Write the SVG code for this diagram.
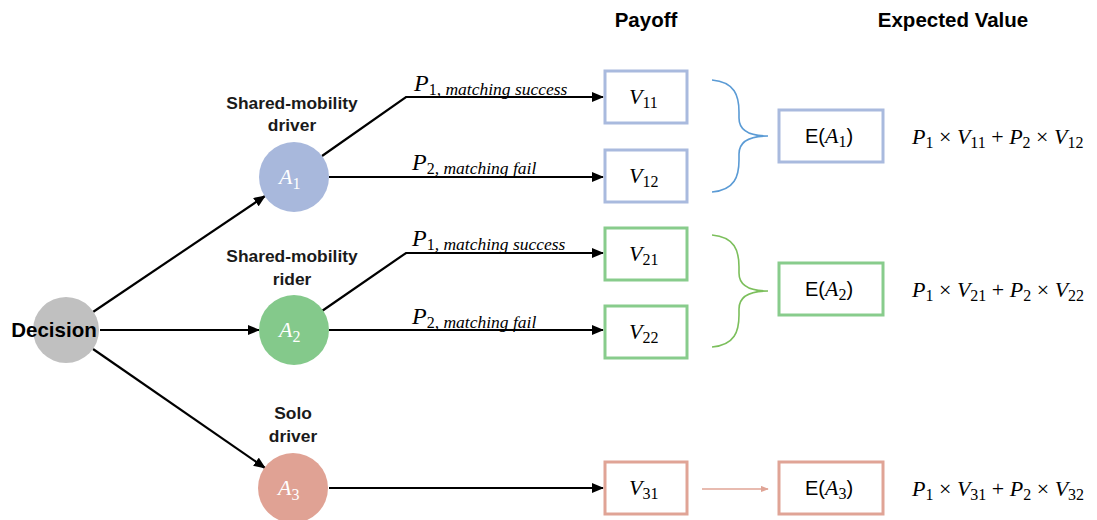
<svg xmlns="http://www.w3.org/2000/svg" width="1097" height="520" viewBox="0 0 1097 520">
  <style>
    .hdr { font-family: "Liberation Sans", Arial, sans-serif; font-weight: bold; font-size: 20.5px; fill: #000; text-anchor: middle; }
    .lbl { font-family: "Liberation Sans", Arial, sans-serif; font-weight: bold; font-size: 17.4px; fill: #1a1a1a; text-anchor: middle; }
    .dec { font-family: "Liberation Sans", Arial, sans-serif; font-weight: bold; font-size: 20.5px; fill: #000; text-anchor: middle; }
    .math { font-family: "Liberation Serif", "DejaVu Serif", serif; font-size: 22px; fill: #000; }
    .big { font-size: 24px; }
    .it { font-style: italic; }
    .sub { font-size: 16px; font-style: normal; }
    .subit { font-size: 17.5px; font-style: italic; }
    .white { fill: #fff; }
    .sans { font-family: "Liberation Sans", Arial, sans-serif; font-size: 20px; }
    .edge { fill: none; stroke: #000; stroke-width: 2.2; }
    .box-b { fill: #fff; stroke: #a9bade; stroke-width: 3; }
    .box-g { fill: #fff; stroke: #88cc8c; stroke-width: 3; }
    .box-r { fill: #fff; stroke: #e0a496; stroke-width: 3; }
  </style>
  <defs>
    <marker id="arr" viewBox="0 0 12 10" refX="11" refY="5" markerWidth="12" markerHeight="10" markerUnits="userSpaceOnUse" orient="auto">
      <path d="M0,0 L12,5 L0,10 z" fill="#000"/>
    </marker>
    <marker id="arrPink" viewBox="0 0 10 8" refX="9" refY="4" markerWidth="8" markerHeight="7" markerUnits="userSpaceOnUse" orient="auto">
      <path d="M0,0 L10,4 L0,8 z" fill="#e0a496"/>
    </marker>
  </defs>

  <rect width="1097" height="520" fill="#fff"/>

  <!-- column headers -->
  <text class="hdr" x="646" y="27">Payoff</text>
  <text class="hdr" x="953" y="27">Expected Value</text>

  <!-- connectors -->
  <g id="connectors">
    <line class="edge" x1="93" y1="312" x2="265" y2="196" marker-end="url(#arr)"/>
    <line class="edge" x1="100" y1="330" x2="259" y2="330" marker-end="url(#arr)"/>
    <line class="edge" x1="93" y1="349" x2="265" y2="468" marker-end="url(#arr)"/>

    <polyline class="edge" points="322,156 406,97 603,97" marker-end="url(#arr)"/>
    <line class="edge" x1="329" y1="177" x2="603" y2="177" marker-end="url(#arr)"/>
    <polyline class="edge" points="322,311 406,253 603,253" marker-end="url(#arr)"/>
    <line class="edge" x1="329" y1="330" x2="603" y2="330" marker-end="url(#arr)"/>
    <line class="edge" x1="329" y1="488" x2="603" y2="488" marker-end="url(#arr)"/>

    <line x1="702" y1="489" x2="768" y2="489" stroke="#e0a496" stroke-width="1.6" marker-end="url(#arrPink)"/>

    <!-- curly braces -->
    <path d="M712,80 C735,82 739,96 739,112 L739,118 C739,130 748,136 768,136 C748,136 739,142 739,154 L739,160 C739,176 735,190 712,192" fill="none" stroke="#5b9bd5" stroke-width="1.6"/>
    <path d="M712,235 C735,237 739,251 739,267 L739,273 C739,285 748,291 768,291 C748,291 739,297 739,309 L739,315 C739,331 735,345 712,347" fill="none" stroke="#7cbf5c" stroke-width="1.6"/>

    <!-- branch probabilities -->
    <text class="math big" x="414" y="91"><tspan class="it">P</tspan><tspan class="sub" dy="4">1</tspan><tspan class="subit">, matching success</tspan></text>
    <text class="math big" x="412" y="170"><tspan class="it">P</tspan><tspan class="sub" dy="4">2</tspan><tspan class="subit">, matching fail</tspan></text>
    <text class="math big" x="412" y="246"><tspan class="it">P</tspan><tspan class="sub" dy="4">1</tspan><tspan class="subit">, matching success</tspan></text>
    <text class="math big" x="412" y="324"><tspan class="it">P</tspan><tspan class="sub" dy="4">2</tspan><tspan class="subit">, matching fail</tspan></text>
  </g>

  <!-- decision node -->
  <g id="decision">
    <circle cx="66" cy="330" r="33" fill="#c0c0c0"/>
    <text class="dec" x="54" y="337">Decision</text>
  </g>

  <!-- alternatives -->
  <g id="alt-a1">
    <text class="lbl" x="292" y="109">Shared-mobility</text>
    <text class="lbl" x="292" y="131">driver</text>
    <circle cx="294" cy="177" r="35" fill="#a8b8dc"/>
    <text class="math white" x="279" y="184"><tspan class="it">A</tspan><tspan class="sub" dy="5">1</tspan></text>
  </g>
  <g id="alt-a2">
    <text class="lbl" x="292" y="262">Shared-mobility</text>
    <text class="lbl" x="292" y="285">rider</text>
    <circle cx="294" cy="330" r="35" fill="#84c98b"/>
    <text class="math white" x="279" y="337"><tspan class="it">A</tspan><tspan class="sub" dy="5">2</tspan></text>
  </g>
  <g id="alt-a3">
    <text class="lbl" x="293" y="419">Solo</text>
    <text class="lbl" x="293" y="442">driver</text>
    <circle cx="293" cy="488" r="35" fill="#e0a294"/>
    <text class="math white" x="278" y="495"><tspan class="it">A</tspan><tspan class="sub" dy="5">3</tspan></text>
  </g>

  <!-- payoffs -->
  <g id="v11">
    <rect class="box-b" x="605" y="71" width="82" height="52"/>
    <text class="math" x="629" y="104"><tspan class="it">V</tspan><tspan class="sub" dy="4">11</tspan></text>
  </g>
  <g id="v12">
    <rect class="box-b" x="605" y="150" width="82" height="52"/>
    <text class="math" x="629" y="183"><tspan class="it">V</tspan><tspan class="sub" dy="4">12</tspan></text>
  </g>
  <g id="v21">
    <rect class="box-g" x="605" y="228" width="82" height="52"/>
    <text class="math" x="629" y="261"><tspan class="it">V</tspan><tspan class="sub" dy="4">21</tspan></text>
  </g>
  <g id="v22">
    <rect class="box-g" x="605" y="306" width="82" height="52"/>
    <text class="math" x="629" y="339"><tspan class="it">V</tspan><tspan class="sub" dy="4">22</tspan></text>
  </g>
  <g id="v31">
    <rect class="box-r" x="605" y="462" width="82" height="52"/>
    <text class="math" x="629" y="495"><tspan class="it">V</tspan><tspan class="sub" dy="4">31</tspan></text>
  </g>

  <!-- expected values -->
  <g id="ea1">
    <rect class="box-b" x="779" y="110" width="104" height="52"/>
    <text class="math" x="805" y="143"><tspan class="sans">E(</tspan><tspan class="it">A</tspan><tspan class="sub" dy="4">1</tspan><tspan class="sans" dy="-4">)</tspan></text>
    <text class="math" x="912" y="144"><tspan class="it">P</tspan><tspan class="sub" dy="4">1</tspan><tspan dy="-4"> × </tspan><tspan class="it">V</tspan><tspan class="sub" dy="4">11</tspan><tspan dy="-4"> + </tspan><tspan class="it">P</tspan><tspan class="sub" dy="4">2</tspan><tspan dy="-4"> × </tspan><tspan class="it">V</tspan><tspan class="sub" dy="4">12</tspan></text>
  </g>
  <g id="ea2">
    <rect class="box-g" x="779" y="263" width="104" height="52"/>
    <text class="math" x="805" y="296"><tspan class="sans">E(</tspan><tspan class="it">A</tspan><tspan class="sub" dy="4">2</tspan><tspan class="sans" dy="-4">)</tspan></text>
    <text class="math" x="912" y="297"><tspan class="it">P</tspan><tspan class="sub" dy="4">1</tspan><tspan dy="-4"> × </tspan><tspan class="it">V</tspan><tspan class="sub" dy="4">21</tspan><tspan dy="-4"> + </tspan><tspan class="it">P</tspan><tspan class="sub" dy="4">2</tspan><tspan dy="-4"> × </tspan><tspan class="it">V</tspan><tspan class="sub" dy="4">22</tspan></text>
  </g>
  <g id="ea3">
    <rect class="box-r" x="779" y="462" width="104" height="52"/>
    <text class="math" x="805" y="495"><tspan class="sans">E(</tspan><tspan class="it">A</tspan><tspan class="sub" dy="4">3</tspan><tspan class="sans" dy="-4">)</tspan></text>
    <text class="math" x="912" y="496"><tspan class="it">P</tspan><tspan class="sub" dy="4">1</tspan><tspan dy="-4"> × </tspan><tspan class="it">V</tspan><tspan class="sub" dy="4">31</tspan><tspan dy="-4"> + </tspan><tspan class="it">P</tspan><tspan class="sub" dy="4">2</tspan><tspan dy="-4"> × </tspan><tspan class="it">V</tspan><tspan class="sub" dy="4">32</tspan></text>
  </g>
</svg>
